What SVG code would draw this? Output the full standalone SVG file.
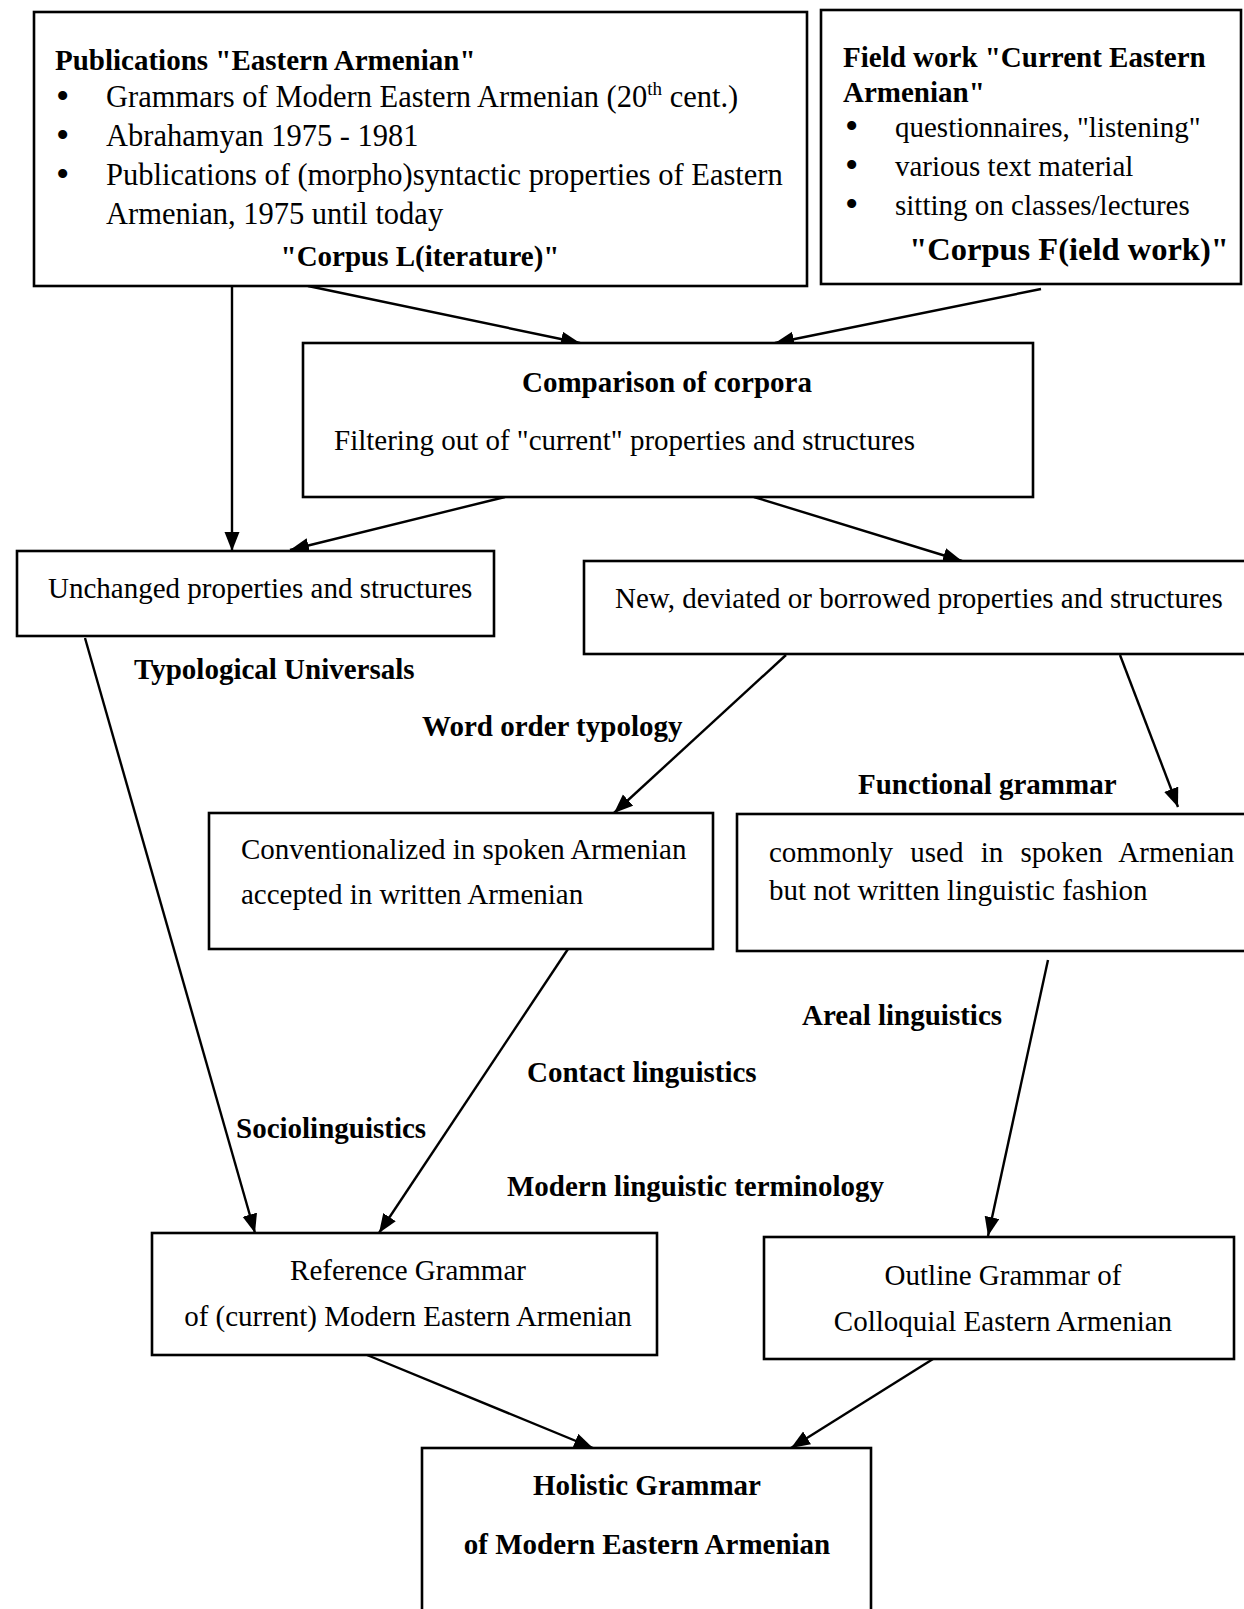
<svg xmlns="http://www.w3.org/2000/svg" width="1244" height="1609" viewBox="0 0 1244 1609">
<style>
.box{fill:#fff;stroke:#000;stroke-width:2.6}
.t{font-family:"Liberation Serif","Times New Roman",serif;font-size:29px;fill:#000}
.l1{font-size:30.5px}
.bu{font-size:38px}
.big{font-size:32.5px}
.b{font-weight:bold}
.c{text-anchor:middle}
.ln{stroke:#000;stroke-width:2.4;fill:none;marker-end:url(#ah)}
</style>
<defs>
<marker id="ah" markerUnits="userSpaceOnUse" markerWidth="20" markerHeight="16" refX="19" refY="7.5" orient="auto">
<path d="M0,0 L19,7.5 L0,15 Z" fill="#000"/>
</marker>
</defs>
<rect width="1244" height="1609" fill="#fff"/>

<g id="connectors">
<line class="ln" x1="232" y1="286" x2="232" y2="551"/>
<line class="ln" x1="308" y1="286" x2="580" y2="343"/>
<line class="ln" x1="1041" y1="289" x2="775" y2="343"/>
<line class="ln" x1="505" y1="497" x2="290" y2="550"/>
<line class="ln" x1="754" y1="497" x2="962" y2="561"/>
<line class="ln" x1="786" y1="655" x2="614" y2="813"/>
<line class="ln" x1="1120" y1="655" x2="1178" y2="807"/>
<line class="ln" x1="85" y1="638" x2="255" y2="1233"/>
<line class="ln" x1="568" y1="949" x2="379" y2="1233"/>
<line class="ln" x1="1048" y1="960" x2="988" y2="1236"/>
<line class="ln" x1="367" y1="1355" x2="593" y2="1448"/>
<line class="ln" x1="933" y1="1359" x2="791" y2="1448"/>
</g>

<g id="publications">
<rect class="box" x="34" y="12" width="773" height="274"/>
<text class="t b" x="55" y="70">Publications "Eastern Armenian"</text>
<text class="t bu" x="56" y="109">•</text>
<text class="t l1" x="106" y="107">Grammars of Modern Eastern Armenian (20<tspan font-size="19" dy="-12">th</tspan><tspan dy="12"> cent.)</tspan></text>
<text class="t bu" x="56" y="148">•</text>
<text class="t l1" x="106" y="146">Abrahamyan 1975 - 1981</text>
<text class="t bu" x="56" y="187">•</text>
<text class="t l1" x="106" y="185">Publications of (morpho)syntactic properties of Eastern</text>
<text class="t l1" x="106" y="224">Armenian, 1975 until today</text>
<text class="t b c" x="420" y="266">"Corpus L(iterature)"</text>
</g>

<g id="fieldwork">
<rect class="box" x="821" y="10" width="420" height="274"/>
<text class="t b" x="843" y="67">Field work "Current Eastern</text>
<text class="t b" x="843" y="102">Armenian"</text>
<text class="t bu" x="845" y="139">•</text>
<text class="t" x="895" y="137">questionnaires, "listening"</text>
<text class="t bu" x="845" y="178">•</text>
<text class="t" x="895" y="176">various text material</text>
<text class="t bu" x="845" y="217">•</text>
<text class="t" x="895" y="215">sitting on classes/lectures</text>
<text class="t b c big" x="1069" y="260">"Corpus F(ield work)"</text>
</g>

<g id="comparison">
<rect class="box" x="303" y="343" width="730" height="154"/>
<text class="t b c" x="667" y="392">Comparison of corpora</text>
<text class="t" x="334" y="450">Filtering out of "current" properties and structures</text>
</g>

<g id="unchanged">
<rect class="box" x="17" y="551" width="477" height="85"/>
<text class="t" x="48" y="598">Unchanged properties and structures</text>
</g>

<g id="new">
<rect class="box" x="584" y="561" width="670" height="93"/>
<text class="t" x="615" y="608">New, deviated or borrowed properties and structures</text>
</g>

<g id="labels">
<text class="t b" x="134" y="679">Typological Universals</text>
<text class="t b" x="422" y="736">Word order typology</text>
<text class="t b" x="858" y="794">Functional grammar</text>
<text class="t b" x="802" y="1025">Areal linguistics</text>
<text class="t b" x="527" y="1082">Contact linguistics</text>
<text class="t b" x="236" y="1138">Sociolinguistics</text>
<text class="t b" x="507" y="1196">Modern linguistic terminology</text>
</g>

<g id="conventionalized">
<rect class="box" x="209" y="813" width="504" height="136"/>
<text class="t" x="241" y="859">Conventionalized in spoken Armenian</text>
<text class="t" x="241" y="904">accepted in written Armenian</text>
</g>

<g id="commonly">
<rect class="box" x="737" y="814" width="517" height="137"/>
<text class="t" x="769" y="862" word-spacing="10">commonly used in spoken Armenian</text>
<text class="t" x="769" y="900">but not written linguistic fashion</text>
</g>

<g id="reference">
<rect class="box" x="152" y="1233" width="505" height="122"/>
<text class="t c" x="408" y="1280">Reference Grammar</text>
<text class="t c" x="408" y="1326">of (current) Modern Eastern Armenian</text>
</g>

<g id="outline">
<rect class="box" x="764" y="1237" width="470" height="122"/>
<text class="t c" x="1003" y="1285">Outline Grammar of</text>
<text class="t c" x="1003" y="1331">Colloquial Eastern Armenian</text>
</g>

<g id="holistic">
<rect class="box" x="422" y="1448" width="449" height="175"/>
<text class="t b c" x="647" y="1495">Holistic Grammar</text>
<text class="t b c" x="647" y="1554">of Modern Eastern Armenian</text>
</g>
</svg>
